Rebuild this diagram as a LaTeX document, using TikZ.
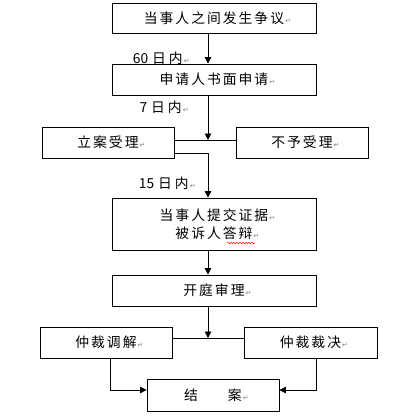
\documentclass[tikz,border=0pt]{standalone}
\usepackage{fontspec}
\setmainfont{Noto Sans CJK SC}
\newfontfamily\dejavu{DejaVu Sans}
\usetikzlibrary{arrows.meta,decorations.pathmorphing}
\newcommand\gp{\hspace{2pt}}
\newcommand\ret{\rlap{\hspace{1pt}\textcolor{gray}{\dejavu\fontsize{7pt}{7pt}\selectfont ↵}}}
\begin{document}
\begin{tikzpicture}[x=1pt,y=-1pt,
  box/.style={draw=black,line width=0.8pt,inner sep=0pt,font=\fontsize{13.8pt}{18pt}\selectfont,align=center},
  lbl/.style={inner sep=0pt,font=\fontsize{13.8pt}{18pt}\selectfont,anchor=east},
  conn/.style={draw=black,line width=0.8pt},
  arr/.style={conn,-{Triangle[length=6.5pt,width=6.5pt]}}]
\useasboundingbox (0,0) rectangle (408,416);
\node[box,minimum width=204pt,minimum height=30pt] (b1) at (214,18) {当\gp 事\gp 人\gp 之\gp 间\gp 发\gp 生\gp 争\gp 议\ret};
\node[box,minimum width=204pt,minimum height=31pt] (b2) at (214,79.5) {申\gp 请\gp 人\gp 书\gp 面\gp 申\gp 请\ret};
\node[box,minimum width=132pt,minimum height=31pt] (l1) at (108,142.5) {立\gp 案\gp 受\gp 理\ret};
\node[box,minimum width=132pt,minimum height=31pt] (r1) at (302,142.5) {不\gp 予\gp 受\gp 理\ret};
\node[box,minimum width=204pt,minimum height=52pt] (b4) at (214,224) {当\gp 事\gp 人\gp 提\gp 交\gp 证\gp 据\ret\\被\gp 诉\gp 人\gp 答\gp 辩\ret};
\node[box,minimum width=204pt,minimum height=31pt] (b5) at (214,290.5) {开\gp 庭\gp 审\gp 理\ret};
\node[box,minimum width=132pt,minimum height=31pt] (m1) at (106,342.5) {仲\gp 裁\gp 调\gp 解\ret};
\node[box,minimum width=133pt,minimum height=31pt] (m2) at (310.5,342.5) {仲\gp 裁\gp 裁\gp 决\ret};
\node[box,minimum width=132pt,minimum height=32pt] (e) at (213,395) {结\hspace{30pt}案\ret};
% labels
\node[lbl] (t1) at (183,58) {60\hspace{4pt}日\hspace{3pt}内\ret};
\node[lbl] (t2) at (182,107) {7\hspace{4pt}日\hspace{3pt}内\ret};
\node[lbl] (t3) at (189,183) {15\hspace{4pt}日\hspace{3pt}内\ret};
% coordinates
\coordinate (sp) at (208,0);
\coordinate (j1) at (208,140);
\coordinate (j2) at (209,153);
\coordinate (j3) at (208,338);
\coordinate (c1) at (110,390);
\coordinate (c2) at (316,390);
% connectors
\draw[arr] (b1.south -| sp) -- (b2.north -| sp);
\draw[arr] (b2.south -| sp) -- (j1);
\draw[conn] (l1.east |- j1) -- (r1.west |- j1);
\draw[conn] (l1.east |- j2) -- (j2);
\draw[arr] (j2 -| sp) -- (b4.north -| sp);
\draw[arr] (b4.south -| sp) -- (b5.north -| sp);
\draw[arr] (b5.south -| sp) -- (j3);
\draw[conn] (m1.east |- j3) -- (m2.west |- j3);
\draw[arr] (m1.south -| c1) -- (c1) -- (e.west |- c1);
\draw[arr] (m2.south -| c2) -- (c2) -- (e.east |- c2);
% spell-check mark
\draw[red,line width=0.5pt,decorate,decoration={snake,amplitude=0.7pt,segment length=3pt}] (227,243) -- (255,243);
\end{tikzpicture}
\end{document}
